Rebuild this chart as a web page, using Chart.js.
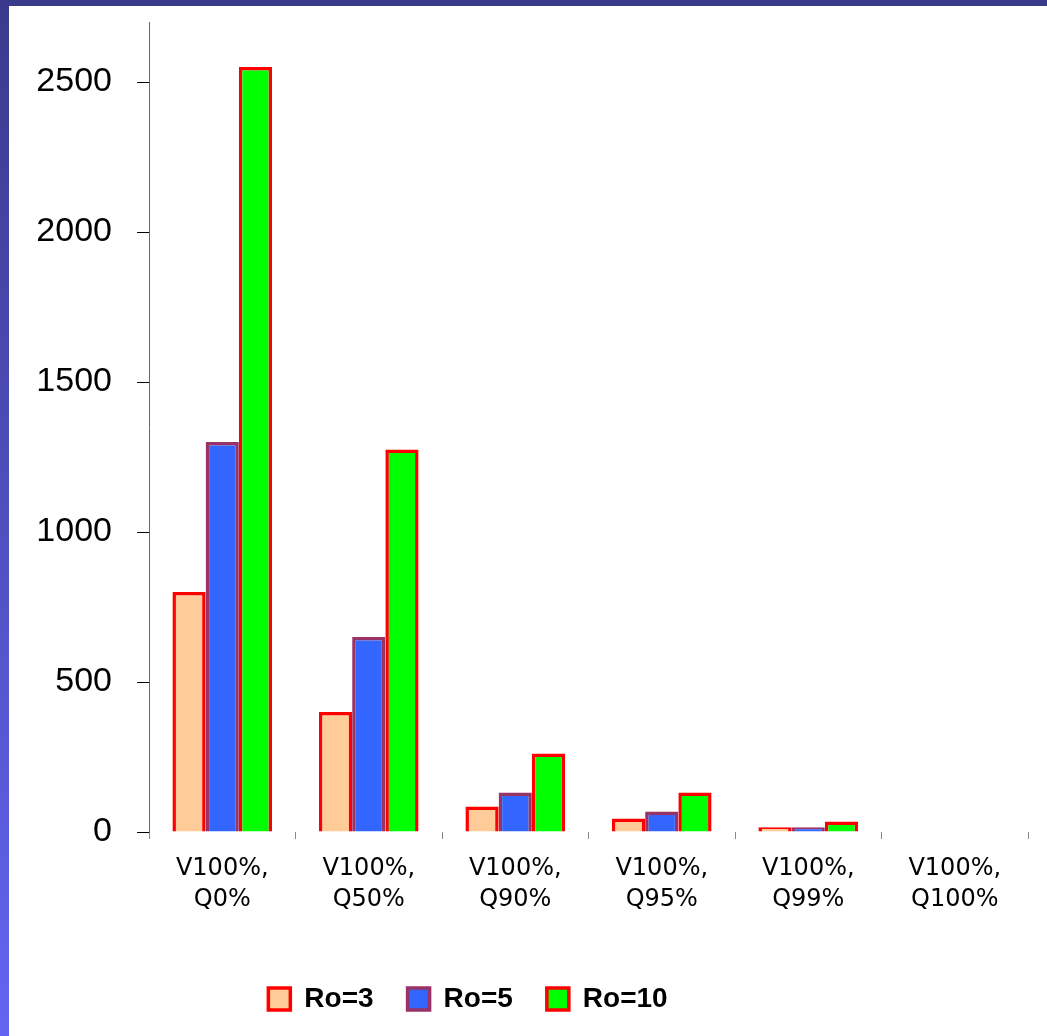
<!DOCTYPE html>
<html>
<head>
<meta charset="utf-8">
<script src="https://cdn.jsdelivr.net/npm/chart.js@4/dist/chart.umd.min.js"></script>
<style>
  html, body { margin: 0; padding: 0; background: #fff; }
  body { width: 1047px; height: 1036px; position: relative; overflow: hidden; }
  .topband { position: absolute; left: 0; top: 0; width: 1047px; height: 6px; background: #3a3a8c; }
  .strip { position: absolute; left: 0; top: 0; width: 9px; height: 1036px;
           background: linear-gradient(to bottom, #3a3a8c, #6464f2); }
  #wrap { position: absolute; left: 0; top: 0; width: 1047px; height: 1036px; }
</style>
</head>
<body>
<div class="topband"></div>
<div class="strip"></div>
<div id="wrap"><canvas id="chart"></canvas></div>
<script>
const categories = [
  ['V100%,', 'Q0%'],
  ['V100%,', 'Q50%'],
  ['V100%,', 'Q90%'],
  ['V100%,', 'Q95%'],
  ['V100%,', 'Q99%'],
  ['V100%,', 'Q100%']
];
const ro3 = [800, 400, 85, 45, 16, 0];
const ro5 = [1300, 650, 132, 68, 16, 0];
const ro10 = [2550, 1275, 262, 132, 35, 0];
const yTicks = [0, 500, 1000, 1500, 2000, 2500];

// nudge the legend to where the original has it
const legendShift = {
  id: 'legendShift',
  afterLayout(chart) {
    const lg = chart.legend;
    if (!lg) return;
    lg.left -= 46; lg.right -= 46;
    lg.top += 19; lg.bottom += 19;
  }
};

const ctx = document.getElementById('chart').getContext('2d');
new Chart(ctx, {
  type: 'bar',
  data: {
    labels: categories,
    datasets: [
      { label: 'Ro=3', data: ro3, backgroundColor: '#ffcc99', borderColor: '#ff0000', borderWidth: 3.5 },
      { label: 'Ro=5', data: ro5, backgroundColor: '#3366ff', borderColor: '#993366', borderWidth: 3.5 },
      { label: 'Ro=10', data: ro10, backgroundColor: '#00ff00', borderColor: '#ff0000', borderWidth: 3.5 }
    ]
  },
  options: {
    responsive: true,
    maintainAspectRatio: false,
    animation: false,
    layout: { padding: { left: 0, right: 19, top: 22, bottom: 32 } },
    categoryPercentage: 0.68,
    barPercentage: 1.0,
    plugins: {
      tooltip: { enabled: false },
      legend: {
        position: 'bottom',
        labels: {
          boxWidth: 22,
          boxHeight: 22,
          padding: 34,
          color: '#000',
          font: { family: 'Liberation Sans, Arial, sans-serif', size: 28, weight: 'bold' }
        }
      }
    },
    scales: {
      x: {
        grid: { display: true, drawOnChartArea: false, tickLength: 7, tickColor: '#888', offset: true },
        border: { display: false },
        ticks: {
          color: '#000',
          padding: 14,
          maxRotation: 0,
          font: { family: 'DejaVu Sans, Verdana, sans-serif', size: 24, lineHeight: 1.3 }
        },
        afterFit(scale) { scale.height = 100; }
      },
      y: {
        min: 0,
        max: 2700,
        grid: { drawOnChartArea: false, tickLength: 12, tickColor: '#000' },
        border: { display: true, color: '#666', width: 1 },
        ticks: {
          color: '#000',
          padding: 25,
          font: { family: 'Liberation Sans, Arial, sans-serif', size: 34 },
          callback: v => String(v)
        },
        afterBuildTicks(scale) { scale.ticks = yTicks.map(v => ({ value: v })); },
        afterFit(scale) {
          scale.width = 149;
          scale.paddingTop = 0;
          scale.paddingBottom = 0;
        }
      }
    }
  },
  plugins: [legendShift]
});
</script>
</body>
</html>
